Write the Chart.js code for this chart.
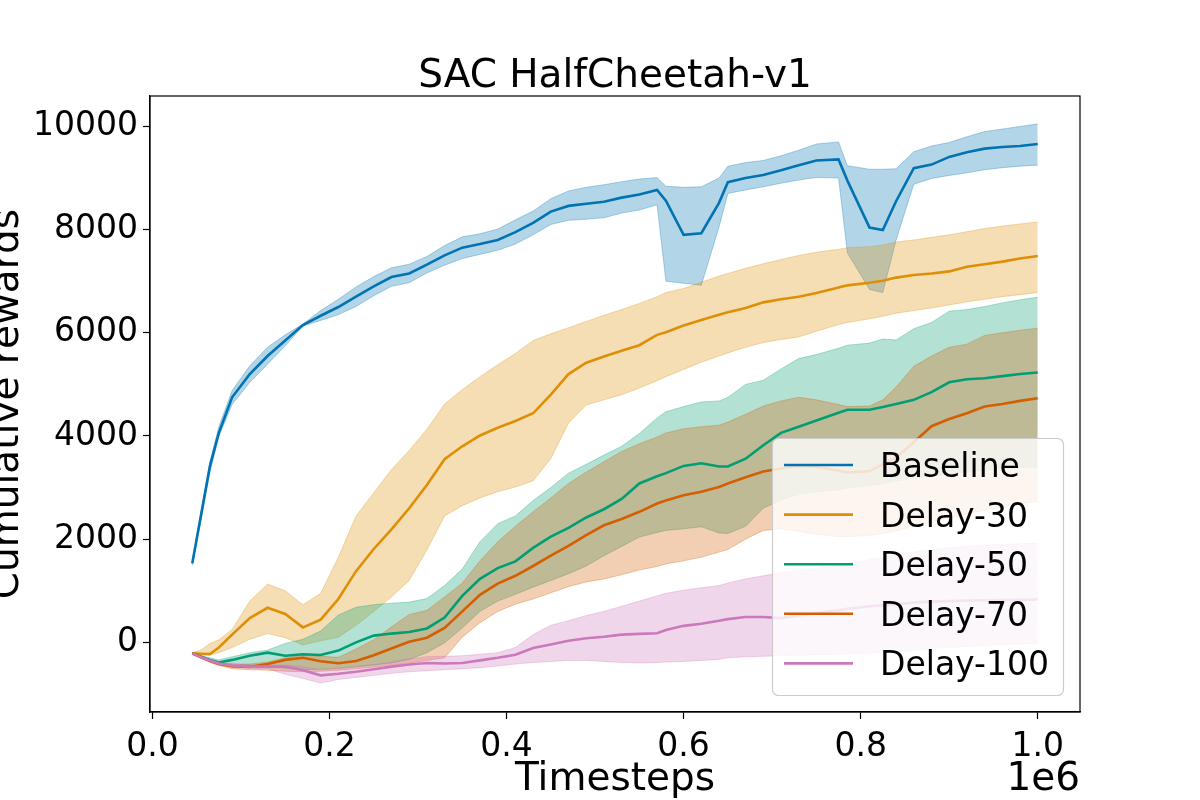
<!DOCTYPE html>
<html>
<head>
<meta charset="utf-8">
<title>SAC HalfCheetah-v1</title>
<script src="https://cdn.jsdelivr.net/npm/chart.js@4.4.1/dist/chart.umd.min.js"></script>
<style>
  html, body { margin: 0; padding: 0; background: #fff; }
  #wrap { width: 1200px; height: 800px; position: relative; }
</style>
</head>
<body>
<div id="wrap"><canvas id="grafico"></canvas></div>
<script>
// =============================================
//  Dados (timesteps em milhões)
// =============================================
const timesteps = [0.045, 0.055, 0.065, 0.075, 0.09, 0.11, 0.13, 0.15, 0.17, 0.19,
  0.21, 0.23, 0.25, 0.27, 0.29, 0.31, 0.33, 0.35, 0.37, 0.39,
  0.41, 0.43, 0.45, 0.47, 0.49, 0.51, 0.53, 0.55, 0.57, 0.58,
  0.60, 0.62, 0.64, 0.65, 0.67, 0.69, 0.71, 0.73, 0.75, 0.775,
  0.785, 0.81, 0.825, 0.84, 0.86, 0.88, 0.90, 0.92, 0.94, 0.96, 0.98, 1.00];

const baselineMean  = [1531, 2480, 3420, 4060, 4750, 5200, 5550, 5850, 6150, 6330, 6500, 6700, 6900, 7080, 7150, 7320, 7500, 7650, 7720, 7800, 7950, 8130, 8350, 8460, 8500, 8540, 8620, 8680, 8770, 8560, 7900, 7930, 8520, 8920, 9000, 9060, 9150, 9250, 9340, 9360, 8950, 8040, 7990, 8550, 9190, 9260, 9410, 9500, 9570, 9600, 9620, 9660];
const baselineUpper = [1570, 2530, 3500, 4180, 4880, 5360, 5720, 5960, 6170, 6430, 6650, 6890, 7090, 7260, 7330, 7480, 7690, 7860, 7920, 8010, 8190, 8360, 8600, 8750, 8820, 8870, 8930, 8980, 9010, 8840, 8820, 8830, 9000, 9230, 9300, 9340, 9430, 9540, 9660, 9700, 9240, 9170, 9170, 9180, 9510, 9620, 9690, 9800, 9900, 9950, 10000, 10050];
const baselineLower = [1490, 2380, 3300, 3990, 4610, 5040, 5390, 5750, 6130, 6240, 6350, 6510, 6720, 6900, 6970, 7160, 7310, 7440, 7520, 7600, 7720, 7900, 8100, 8180, 8200, 8230, 8320, 8380, 8480, 7000, 6960, 6920, 8050, 8700, 8770, 8830, 8900, 8960, 9010, 9000, 7550, 6840, 6780, 7800, 8880, 8990, 9050, 9100, 9160, 9200, 9230, 9250];

const delay30Mean  = [-213, -220, -225, -100, 150, 470, 670, 550, 290, 440, 840, 1380, 1810, 2190, 2600, 3050, 3550, 3800, 4010, 4160, 4290, 4440, 4800, 5200, 5420, 5540, 5650, 5760, 5960, 6010, 6140, 6250, 6350, 6400, 6480, 6590, 6650, 6700, 6770, 6880, 6920, 6970, 7010, 7070, 7120, 7150, 7190, 7280, 7330, 7380, 7440, 7490];
const delay30Upper = [-200, -150, -20, 50, 250, 800, 1130, 1000, 730, 950, 1650, 2450, 2900, 3350, 3720, 4130, 4620, 4900, 5150, 5380, 5600, 5850, 5980, 6100, 6220, 6340, 6450, 6570, 6700, 6780, 6860, 6980, 7100, 7150, 7250, 7340, 7420, 7500, 7560, 7620, 7650, 7670, 7700, 7760, 7800, 7850, 7900, 7960, 8020, 8070, 8110, 8150];
const delay30Lower = [-230, -250, -250, -200, -100, 60, 170, 90, -50, 30, 100, 330, 600, 880, 1200, 1790, 2450, 2650, 2800, 2920, 3010, 3130, 3560, 4250, 4600, 4700, 4800, 4930, 5070, 5150, 5290, 5430, 5550, 5610, 5720, 5810, 5870, 5920, 6030, 6160, 6200, 6270, 6320, 6380, 6430, 6480, 6540, 6600, 6650, 6700, 6740, 6780];

const delay50Mean  = [-213, -280, -340, -390, -340, -260, -200, -260, -230, -245, -160, 0, 130, 170, 200, 270, 480, 900, 1230, 1440, 1570, 1830, 2050, 2220, 2420, 2580, 2780, 3080, 3220, 3280, 3420, 3470, 3410, 3410, 3560, 3820, 4060, 4180, 4300, 4450, 4510, 4510, 4560, 4620, 4700, 4850, 5040, 5100, 5120, 5160, 5200, 5230];
const delay50Upper = [-200, -260, -300, -340, -280, -200, -150, -20, 60, 220, 530, 680, 730, 760, 780, 850, 1100, 1420, 1950, 2300, 2450, 2750, 3000, 3280, 3450, 3630, 3800, 4050, 4350, 4470, 4570, 4660, 4680, 4750, 5000, 5080, 5300, 5500, 5580, 5700, 5760, 5800, 5880, 5860, 6080, 6200, 6420, 6450, 6510, 6580, 6640, 6690];
const delay50Lower = [-230, -300, -370, -420, -420, -440, -460, -500, -530, -520, -500, -470, -440, -400, -330, -200, -10, 280, 600, 800, 930, 1070, 1200, 1330, 1480, 1680, 1860, 2040, 2130, 2170, 2200, 2240, 2120, 2110, 2250, 2600, 2760, 2870, 2920, 2960, 2990, 3040, 3080, 3130, 3180, 3220, 3260, 3300, 3340, 3370, 3390, 3400];

const delay70Mean  = [-213, -290, -360, -420, -460, -475, -420, -340, -300, -365, -405, -360, -250, -120, 10, 90, 280, 600, 920, 1140, 1290, 1480, 1680, 1870, 2080, 2270, 2390, 2530, 2690, 2750, 2850, 2920, 3010, 3080, 3200, 3310, 3370, 3420, 3400, 3330, 3290, 3320, 3450, 3580, 3880, 4190, 4330, 4440, 4570, 4620, 4680, 4730];
const delay70Upper = [-200, -270, -330, -390, -420, -420, -380, -300, -250, -270, -290, -130, 50, 300, 540, 620, 880, 1150, 1580, 1950, 2250, 2530, 2800, 3080, 3300, 3500, 3700, 3850, 3980, 4060, 4140, 4180, 4210, 4270, 4420, 4580, 4680, 4750, 4700, 4610, 4570, 4580, 4700, 4950, 5350, 5550, 5720, 5780, 5950, 6000, 6050, 6090];
const delay70Lower = [-230, -310, -390, -450, -510, -530, -540, -560, -570, -560, -540, -510, -480, -440, -400, -350, -300, 100, 380, 600, 740, 840, 960, 1080, 1170, 1230, 1310, 1400, 1470, 1520, 1580, 1650, 1750, 1800, 2000, 2170, 2200, 2150, 2090, 2050, 2050, 2070, 2110, 2160, 2250, 2340, 2420, 2490, 2560, 2620, 2680, 2730];

const delay100Mean  = [-213, -290, -350, -410, -450, -470, -470, -470, -540, -640, -610, -570, -520, -470, -430, -400, -410, -400, -350, -300, -240, -110, -40, 30, 80, 110, 150, 165, 175, 240, 320, 360, 420, 450, 490, 490, 470, 520, 570, 620, 650, 700, 720, 740, 770, 790, 800, 810, 815, 820, 825, 830];
const delay100Upper = [-200, -270, -330, -390, -420, -440, -440, -440, -470, -530, -500, -470, -430, -380, -320, -280, -270, -260, -230, -200, -100, 150, 330, 420, 520, 600, 700, 800, 900, 950, 1010, 1060, 1100, 1150, 1230, 1290, 1350, 1390, 1430, 1500, 1530, 1600, 1650, 1700, 1750, 1790, 1830, 1860, 1880, 1900, 1910, 1920];
const delay100Lower = [-230, -310, -370, -430, -480, -500, -510, -620, -700, -790, -720, -680, -640, -600, -570, -550, -530, -510, -490, -460, -420, -390, -370, -350, -350, -370, -390, -400, -390, -380, -370, -350, -330, -300, -280, -270, -260, -250, -240, -230, -220, -210, -200, -190, -160, -120, -100, -80, -60, -40, -30, -20];

const seriesNames  = ['Baseline', 'Delay-30', 'Delay-50', 'Delay-70', 'Delay-100'];
const seriesColors = ['#0173b2', '#de8f05', '#029e73', '#d55e00', '#cc78bc'];

const xTicks = [0.0, 0.2, 0.4, 0.6, 0.8, 1.0];
const yTicks = [0, 2000, 4000, 6000, 8000, 10000];

const chartTitle = 'SAC HalfCheetah-v1';
const xLabel = 'Timesteps';
const yLabel = 'Cumulative rewards';
const xOffsetText = '1e6';

// =============================================
//  Montagem dos datasets
// =============================================
const FONTE = '"DejaVu Sans", "Liberation Sans", sans-serif';

function rgba(hex, a) {
  const n = parseInt(hex.slice(1), 16);
  return `rgba(${(n >> 16) & 255}, ${(n >> 8) & 255}, ${n & 255}, ${a})`;
}

function pontos(valores) {
  return timesteps.map((x, i) => ({ x, y: valores[i] }));
}

const series = [
  { mean: baselineMean, upper: baselineUpper, lower: baselineLower },
  { mean: delay30Mean,  upper: delay30Upper,  lower: delay30Lower },
  { mean: delay50Mean,  upper: delay50Upper,  lower: delay50Lower },
  { mean: delay70Mean,  upper: delay70Upper,  lower: delay70Lower },
  { mean: delay100Mean, upper: delay100Upper, lower: delay100Lower }
];

const datasets = [];

// faixas (desvio) — desenhadas primeiro
series.forEach((s, i) => {
  const cor = seriesColors[i];
  datasets.push({
    label: seriesNames[i] + ' sup',
    data: pontos(s.upper),
    borderColor: rgba(cor, 0.3),
    borderWidth: 1,
    backgroundColor: rgba(cor, 0.3),
    pointRadius: 0,
    fill: '+1',
    order: 20 - i
  });
  datasets.push({
    label: seriesNames[i] + ' inf',
    data: pontos(s.lower),
    borderColor: rgba(cor, 0.3),
    borderWidth: 1,
    pointRadius: 0,
    fill: false,
    order: 20 - i
  });
});

// linhas médias — por cima das faixas
series.forEach((s, i) => {
  datasets.push({
    label: seriesNames[i],
    data: pontos(s.mean),
    borderColor: seriesColors[i],
    borderWidth: 2.6,
    pointRadius: 0,
    fill: false,
    order: 10 - i,
    ehMedia: true
  });
});

// =============================================
//  Títulos, bordas e legenda (estilo matplotlib)
// =============================================
const decoracao = {
  id: 'decoracao',
  afterDraw(chart) {
    const { ctx, chartArea: a } = chart;
    ctx.save();

    // moldura completa do eixo
    ctx.strokeStyle = '#000';
    ctx.lineWidth = 1.2;
    ctx.strokeRect(a.left, a.top, a.right - a.left, a.bottom - a.top);

    ctx.fillStyle = '#000';
    ctx.textBaseline = 'alphabetic';
    ctx.font = `39px ${FONTE}`;
    ctx.textAlign = 'center';
    ctx.fillText(chartTitle, (a.left + a.right) / 2, 87);
    ctx.fillText(xLabel, (a.left + a.right) / 2, 790);

    ctx.textAlign = 'right';
    ctx.fillText(xOffsetText, a.right, 790);

    ctx.save();
    ctx.translate(18, (a.top + a.bottom) / 2);
    ctx.rotate(-Math.PI / 2);
    ctx.textAlign = 'center';
    ctx.fillText(yLabel, 0, 0);
    ctx.restore();

    // legenda no canto inferior direito
    const medias = chart.data.datasets.filter(d => d.ehMedia);
    const lw = 291, lh = 257;
    const lx = a.right - 17 - lw;
    const ly = a.bottom - 17 - lh;
    ctx.beginPath();
    ctx.roundRect(lx + 0.5, ly + 0.5, lw, lh, 6);
    ctx.fillStyle = 'rgba(255, 255, 255, 0.8)';
    ctx.fill();
    ctx.strokeStyle = '#cccccc';
    ctx.lineWidth = 1.2;
    ctx.stroke();

    ctx.font = `33px ${FONTE}`;
    ctx.textAlign = 'left';
    medias.forEach((d, i) => {
      const y = ly + 27 + i * 49.6;
      ctx.strokeStyle = d.borderColor;
      ctx.lineWidth = 2.6;
      ctx.beginPath();
      ctx.moveTo(lx + 12, y);
      ctx.lineTo(lx + 81, y);
      ctx.stroke();
      ctx.fillStyle = '#000';
      ctx.fillText(d.label, lx + 108, y + 12);
    });

    ctx.restore();
  }
};

const fonteTicks = { family: FONTE, size: 33 };

new Chart(document.getElementById('grafico'), {
  type: 'line',
  data: { datasets },
  options: {
    responsive: true,
    maintainAspectRatio: false,
    animation: false,
    devicePixelRatio: 1,
    layout: { padding: { top: 96, right: 120, bottom: 0, left: 0 } },
    elements: { line: { tension: 0 } },
    plugins: {
      legend: { display: false },
      tooltip: { enabled: false },
      title: { display: false }
    },
    scales: {
      x: {
        type: 'linear',
        min: -0.00275,
        max: 1.04775,
        afterBuildTicks: s => { s.ticks = xTicks.map(v => ({ value: v })); },
        afterFit: s => { s.height = 88; },
        ticks: {
          color: '#000',
          font: fonteTicks,
          padding: 9,
          maxRotation: 0,
          autoSkip: false,
          callback: v => Number(v).toFixed(1)
        },
        grid: { drawOnChartArea: false, drawTicks: true, tickLength: 7, color: '#000', tickWidth: 1.2 },
        border: { display: true, color: '#000', width: 1.2 }
      },
      y: {
        type: 'linear',
        min: -1350,
        max: 10590,
        afterBuildTicks: s => { s.ticks = yTicks.map(v => ({ value: v })); },
        afterFit: s => { s.width = 150; },
        ticks: {
          color: '#000',
          font: fonteTicks,
          padding: 5,
          autoSkip: false,
          callback: v => String(v)
        },
        grid: { drawOnChartArea: false, drawTicks: true, tickLength: 7, color: '#000', tickWidth: 1.2 },
        border: { display: true, color: '#000', width: 1.2 }
      }
    }
  },
  plugins: [decoracao]
});
</script>
</body>
</html>
